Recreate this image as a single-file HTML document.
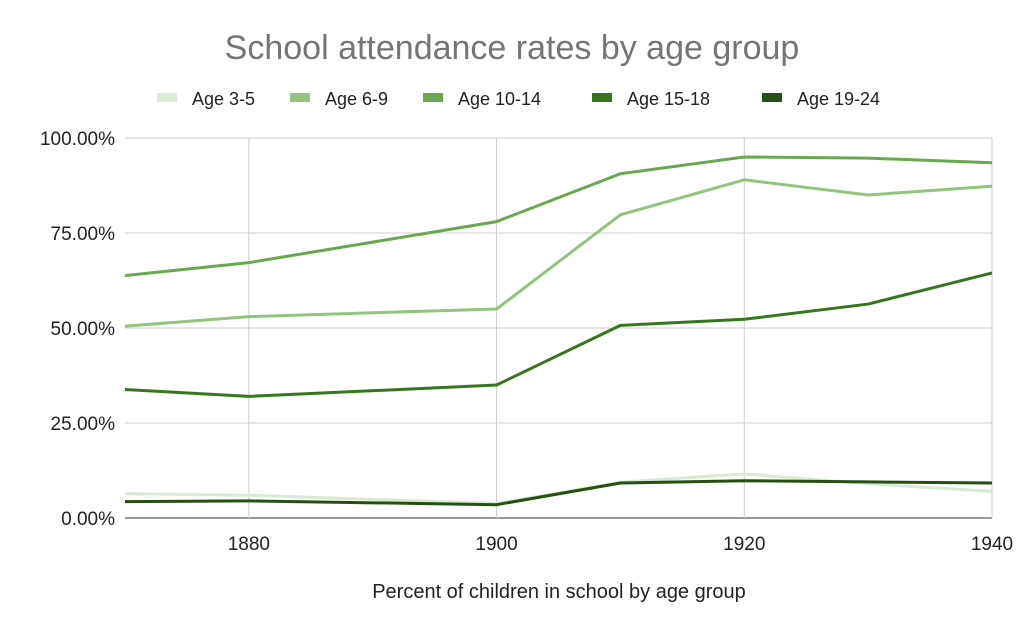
<!DOCTYPE html>
<html><head><meta charset="utf-8"><style>
body{margin:0;background:#fff;font-family:"Liberation Sans",sans-serif}
svg text{font-family:"Liberation Sans",sans-serif}
</style></head><body>
<svg id="chart" width="1024" height="633">
<text x="512" y="59" text-anchor="middle" font-size="34" fill="#757575">School attendance rates by age group</text>
<g id="legend"></g>
<g id="grid"></g><g id="lines"></g><g id="axes"></g>
<text x="559" y="598" text-anchor="middle" font-size="20" fill="#222">Percent of children in school by age group</text>
</svg>
<script>
const years=[1870,1880,1900,1910,1920,1930,1940];
const seriesNames=["Age 3-5","Age 6-9","Age 10-14","Age 15-18","Age 19-24"];
const age3_5=[6.4,6.0,3.8,9.4,11.6,9.0,7.0];
const age6_9=[50.5,53.0,55.0,79.8,89.0,85.0,87.3];
const age10_14=[63.8,67.2,78.0,90.6,95.0,94.7,93.5];
const age15_18=[33.8,32.0,35.0,50.7,52.3,56.3,64.5];
const age19_24=[4.3,4.5,3.5,9.2,9.8,9.5,9.2];
const yTicks=[0,25,50,75,100];
const xTicks=[1880,1900,1920,1940];
const colors=["#d9ead3","#93c47d","#6aa84f","#38761d","#274e13"];
const NS="http://www.w3.org/2000/svg";
const X=v=>125+(v-1870)*(992-125)/70;
const Y=v=>518-v*3.8;
function mk(tag,attrs,parent,text){const e=document.createElementNS(NS,tag);for(const k in attrs)e.setAttribute(k,attrs[k]);if(text!==undefined)e.textContent=text;parent.appendChild(e);return e;}
const grid=document.getElementById('grid'),axes=document.getElementById('axes'),lines=document.getElementById('lines'),legend=document.getElementById('legend');
yTicks.forEach(t=>{
 const l=mk('line',{x1:125,x2:992,y1:Y(t),y2:Y(t),stroke:t===0?'#333':'#ccc','stroke-width':1},grid);
 
 
 const tx=mk('text',{x:115,y:Y(t)+7,'text-anchor':'end','font-size':19,fill:'#222'},axes,t.toFixed(2)+'%');
 
 
});
xTicks.forEach(t=>{
 const l=mk('line',{x1:X(t),x2:X(t),y1:Y(100),y2:Y(0),stroke:'#ccc','stroke-width':1},grid);
 
 
 const tx=mk('text',{x:X(t),y:550,'text-anchor':'middle','font-size':19,fill:'#222'},axes,String(t));
 
 
});
[age3_5,age6_9,age10_14,age15_18,age19_24].forEach((s,i)=>{
 const p=mk('polyline',{points:s.map((v,j)=>X(years[j])+','+Y(v)).join(' '),fill:'none',stroke:colors[i],'stroke-width':3,'stroke-linejoin':'round'},lines);
 
 
});
const lx=[157,290,423,592,762];
seriesNames.forEach((n,i)=>{
 const g=mk('g',{},legend);
 
 
 mk('rect',{x:lx[i],y:93,width:20,height:9,fill:colors[i]},g);
 mk('text',{x:lx[i]+35,y:105,'font-size':18,fill:'#222'},g,n);
});
</script>
</body></html>
